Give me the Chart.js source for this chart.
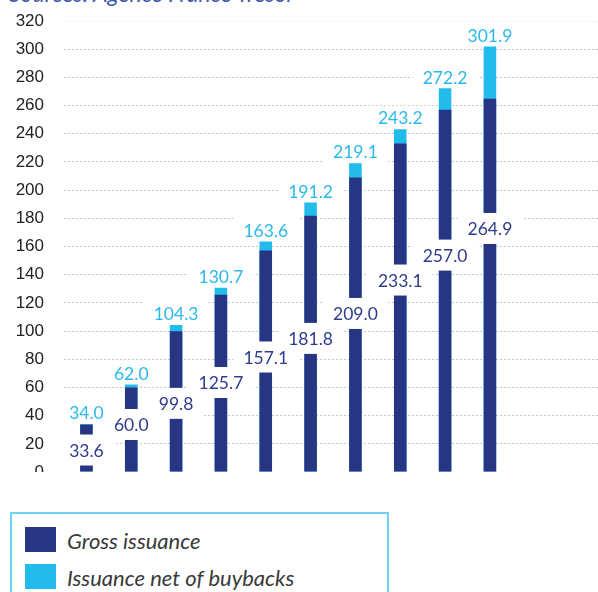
<!DOCTYPE html>
<html>
<head>
<meta charset="utf-8">
<script src="https://cdn.jsdelivr.net/npm/chart.js@4"></script>
<style>
  body { margin: 0; width: 598px; height: 592px; overflow: hidden; position: relative; background: #fff; }
  #source { position: absolute; left: 9px; top: -21px; font: italic 23px Lato, sans-serif; color: #3f5aa8; white-space: nowrap; }
  #plot { position: absolute; left: 0; top: 0; width: 604px; height: 472px; overflow: hidden; }
  #chart { position: absolute; left: 0; top: -19px; }
  #legend { position: absolute; left: 10px; top: 512px; width: 379px; height: 100px; border: 2px solid #6cd3f3; box-sizing: border-box; }
  .item { position: absolute; left: 13px; height: 25px; font: italic 22px Lato, sans-serif; color: #3a3a3a; white-space: nowrap; }
  .swatch { position: absolute; left: 0; top: 0; width: 31px; height: 25px; }
  .item span { position: absolute; left: 42px; top: 1px; line-height: 25px; }
</style>
</head>
<body>
<div id="source">Sources: Agence France Trésor</div>
<div id="plot"><canvas id="chart" width="604" height="531"></canvas></div>
<div id="legend"></div>

<script>
"use strict";

// x-axis labels fall outside the cropped picture
const categories = ['', '', '', '', '', '', '', '', '', '', '', ''];

// dark bars (value printed inside the bar)
const grossIssuance = [33.6, 60.0, 99.8, 125.7, 157.1, 181.8, 209.0, 233.1, 257.0, 264.9, null, null];
// light bars (value printed above the bar)
const netOfBuybacks = [34.0, 62.0, 104.3, 130.7, 163.6, 191.2, 219.1, 243.2, 272.2, 301.9, null, null];

const seriesNames = ['Gross issuance', 'Issuance net of buybacks'];
const seriesColors = ['#283583', '#22bbec'];
const labelColors = ['#2f3c8c', '#2bb9ea'];

// where the inner (dark) labels sit, in axis units
const innerLabelAt = [15.6, 33.7, 48.7, 63.5, 81.6, 94.8, 112.5, 136.2, 153.9, 172.8];

const yMin = 0;
const yMax = 320;
const yStep = 20;

// Draws the value labels with white boxes behind them
const valueLabels = {
    id: 'valueLabels',
    // light series labels sit under the bars
    beforeDatasetsDraw(chart) {
        drawLabels(chart, 1);
    },
    afterDatasetsDraw(chart) {
        drawLabels(chart, 0);
    }
};

function drawLabels(chart, index) {
    const ctx = chart.ctx;
    const yScale = chart.scales.y;
    const meta = chart.getDatasetMeta(index);
    const values = chart.data.datasets[index].data;
    ctx.save();
    ctx.font = '17.5px Lato, sans-serif';
    ctx.textAlign = 'center';
    ctx.textBaseline = 'middle';

    const labels = [];
    meta.data.forEach((bar, i) => {
        if (values[i] == null) return;
        const text = values[i].toFixed(1);
        const w = ctx.measureText(text).width + 20;
        if (index === 0) {
            labels.push({ text, x: bar.x, y: yScale.getPixelForValue(innerLabelAt[i]), w, h: 31 });
        } else {
            labels.push({ text, x: bar.x, y: bar.y - 11.5, w, h: 24 });
        }
    });

    // all boxes first, so a box never hides a neighbour's text
    ctx.fillStyle = '#fff';
    labels.forEach(l => ctx.fillRect(l.x - l.w / 2, l.y - l.h / 2, l.w, l.h));
    ctx.fillStyle = labelColors[index];
    labels.forEach(l => ctx.fillText(l.text, l.x, l.y + 1));
    ctx.restore();
}

const ctx = document.getElementById('chart').getContext('2d');
new Chart(ctx, {
    type: 'bar',
    data: {
        labels: categories,
        datasets: [
            {
                label: seriesNames[0],
                data: grossIssuance,
                backgroundColor: seriesColors[0],
                grouped: false,
                barPercentage: 0.28,
                categoryPercentage: 1
            },
            {
                label: seriesNames[1],
                data: netOfBuybacks,
                backgroundColor: seriesColors[1],
                grouped: false,
                barPercentage: 0.28,
                categoryPercentage: 1
            }
        ]
    },
    options: {
        responsive: false,
        animation: false,
        // top/bottom padding larger than the tick label room, so the plot area is exact
        layout: { padding: { left: 16, top: 40, right: 2, bottom: 40 } },
        plugins: {
            legend: { display: false },
            tooltip: { enabled: false }
        },
        scales: {
            x: { display: false },
            y: {
                min: yMin,
                max: yMax,
                afterFit: (scale) => { scale.width = 48; },
                border: { display: false, dash: [2, 2] },
                grid: {
                    drawTicks: false,
                    color: (c) => c.tick && c.tick.value === yMax ? '#f2f2f2' : '#c6c6c6',
                    lineWidth: 1
                },
                ticks: {
                    stepSize: yStep,
                    padding: 20,
                    color: '#222',
                    font: { family: 'Liberation Sans', size: 17 }
                }
            }
        }
    },
    plugins: [valueLabels]
});

// Legend box built from the series names and colours
const legend = document.getElementById('legend');
seriesNames.forEach((name, i) => {
    const item = document.createElement('div');
    item.className = 'item';
    item.style.top = (13 + i * 37) + 'px';
    item.innerHTML = '<div class="swatch" style="background:' + seriesColors[i] + '"></div><span>' + name + '</span>';
    legend.appendChild(item);
});
</script>
</body>
</html>
